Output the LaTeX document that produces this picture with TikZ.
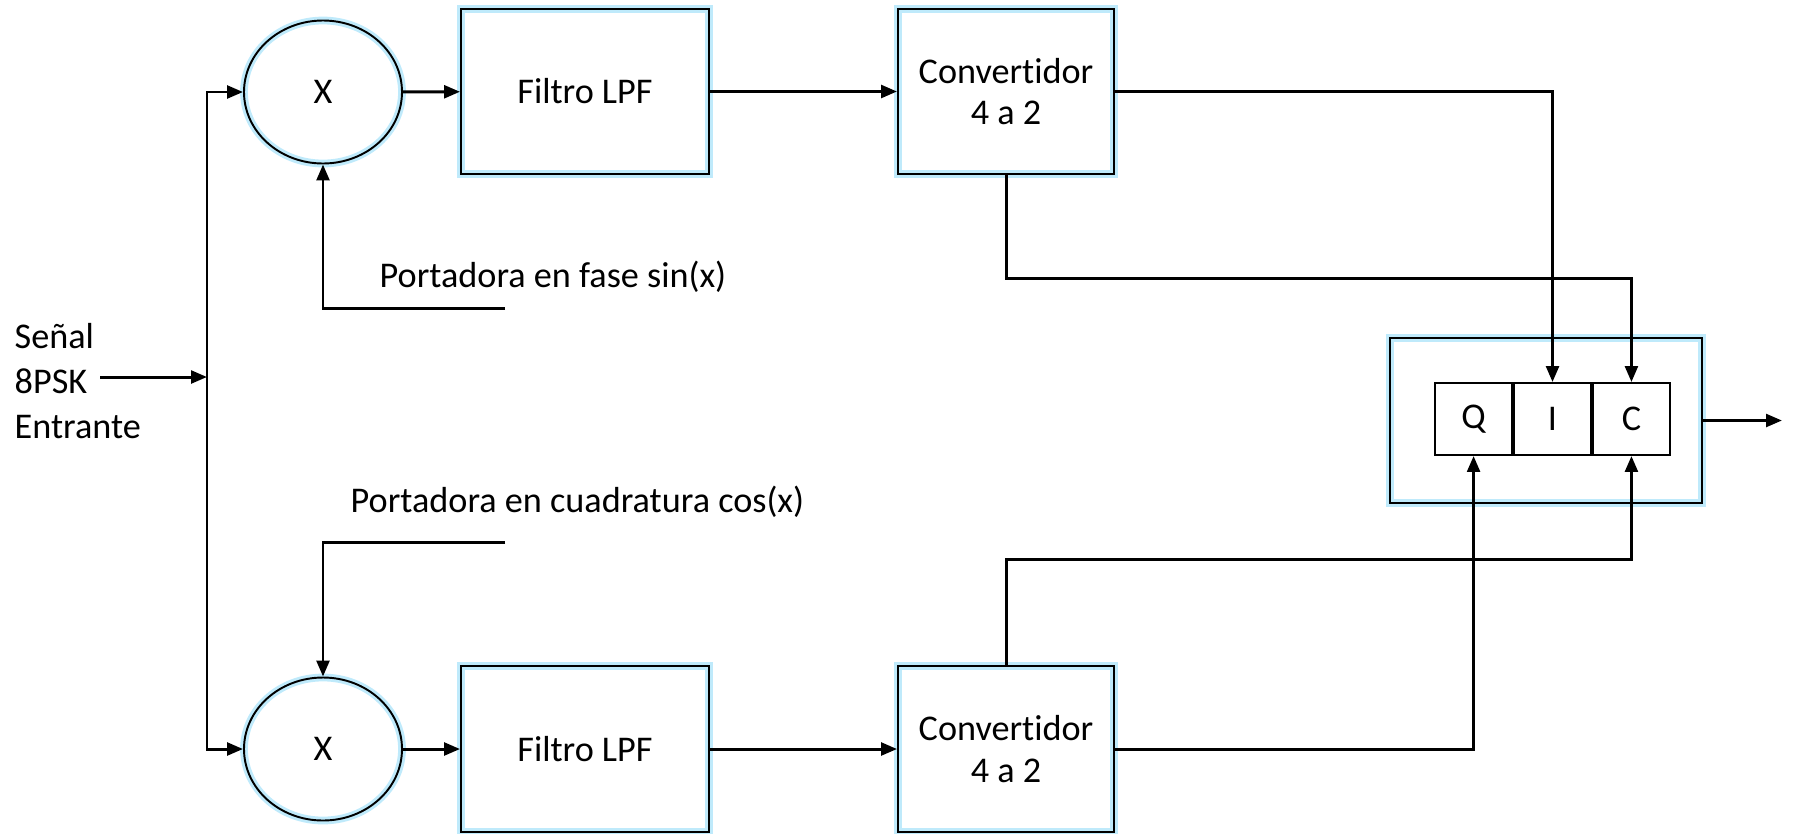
\documentclass[tikz,border=0pt]{standalone}
\usepackage{fontspec}
\setmainfont{Carlito}[Ligatures=NoCommon]
\usetikzlibrary{shapes.geometric,positioning,arrows.meta}

\begin{document}
\begin{tikzpicture}[
    >={Triangle[length=4.5pt,width=3.6pt]},
    font=\fontsize{10.3}{11.7}\selectfont,
    bloque/.style={draw, rectangle, line width=0.55pt, preaction={draw=cyan!25, line width=2.2pt}, align=center},
    mezclador/.style={draw, ellipse, line width=0.55pt, preaction={draw=cyan!25, line width=2.2pt}, minimum width=1.58cm, minimum height=1.43cm, inner sep=0pt},
    celda/.style={draw, rectangle, line width=0.55pt, minimum width=0.77cm, minimum height=0.72cm, inner sep=0pt},
    linea/.style={line width=0.85pt}
  ]
    \useasboundingbox (0,0) rectangle (17.96,8.33);

    % Entrada
    \node[anchor=west, align=left, inner sep=0pt, font=\fontsize{10.3}{12.8}\selectfont] (senal) at (0.14,4.52) {Señal\\8PSK\\Entrante};
    \coordinate (ent) at (1.00,4.56);
    \coordinate (nodo) at (2.07,4.56);

    % Rama superior
    \node[mezclador] (mixsup) at (3.23,7.41) {X};
    \node[bloque, minimum width=2.48cm, minimum height=1.65cm] (filtrosup) at (5.85,7.415) {Filtro LPF};
    \node[bloque, minimum width=2.16cm, minimum height=1.65cm] (convsup) at (10.06,7.415) {Convertidor\\4 a 2};

    % Portadora en fase
    \node[anchor=west, inner sep=0pt] (lblsin) at (3.79,5.56) {Portadora en fase sin(x)};
    \coordinate (psin) at (5.05,5.25);

    % Rama inferior
    \node[mezclador] (mixinf) at (3.23,0.84) {X};
    \node[bloque, minimum width=2.48cm, minimum height=1.66cm] (filtroinf) at (5.85,0.84) {Filtro LPF};
    \node[bloque, minimum width=2.16cm, minimum height=1.66cm] (convinf) at (10.06,0.84) {Convertidor\\4 a 2};

    % Portadora en cuadratura
    \node[anchor=west, inner sep=0pt] (lblcos) at (3.50,3.31) {Portadora en cuadratura cos(x)};
    \coordinate (pcos) at (5.05,2.91);

    % Salida Q I C
    \node[bloque, minimum width=3.12cm, minimum height=1.65cm] (salida) at (15.46,4.125) {};
    \node[celda] (celi) at (15.525,4.14) {I};
    \node[celda, left=0pt of celi] (celq) {Q};
    \node[celda, right=0pt of celi] (celc) {C};

    % Flechas
    \draw[linea, ->] (ent) -- (nodo);
    \draw[linea, ->] (nodo) |- (mixsup.west);
    \draw[linea, ->] (nodo) |- (mixinf.west);
    \draw[linea, ->] (mixsup) -- (filtrosup);
    \draw[linea, ->] (filtrosup) -- (convsup);
    \draw[linea, ->] (mixinf) -- (filtroinf);
    \draw[linea, ->] (filtroinf) -- (convinf);
    \draw[linea, ->] (psin) -| (mixsup.south);
    \draw[linea, ->] (pcos) -| (mixinf.north);
    \draw[linea, ->] (convsup.east) -| (celi.north);
    \draw[linea, ->] (convsup.south) -- ++(0,-1.04) -| (celc.north);
    \draw[linea, ->] (convinf.east) -| (celq.south);
    \draw[linea, ->] (convinf.north) -- ++(0,1.06) -| (celc.south);
    \draw[linea, ->] (salida.east) -- ++(0.79,0);
\end{tikzpicture}
\end{document}
